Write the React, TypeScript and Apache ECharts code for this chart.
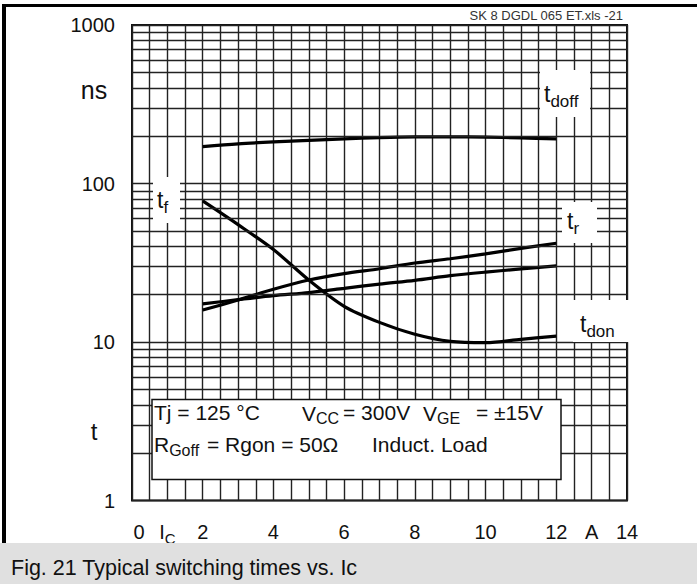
import React, { useEffect, useRef } from "react";
import * as echarts from "echarts";

const currentA = [2, 3, 4, 5, 6, 7, 8, 9, 10, 11, 12];
const tdoff = [171, 178, 183, 187, 191, 195, 197, 197, 196, 194, 191];
const tf = [77.6, 55, 38.3, 24.6, 16.8, 13.3, 11.2, 10.1, 9.9, 10.4, 10.9];
const tr = [15.9, 18.4, 21.5, 24.6, 27, 29, 31.5, 33.5, 36, 39, 42];
const tdon = [17.4, 18.5, 19.6, 20.5, 21.8, 23.2, 24.5, 26.2, 27.6, 28.9, 30.2];
const xTickLabels = ["0", "IC", "2", "", "4", "", "6", "", "8", "", "10", "", "12", "A", "14"];
const yMinorLines = [2, 3, 4, 5, 6, 7, 8, 9, 20, 30, 40, 50, 60, 70, 80, 90, 200, 300, 400, 500, 600, 700, 800, 900];

const FONT = "'Liberation Sans', Arial, Helvetica, sans-serif";
const GRID_COLOR = "#222";

function pairs(ys: number[]) {
  return currentA.map((x, i) => [x, ys[i]]);
}

function sublabel(x: number, y: number, main: string, sub: string, size = 23, subSize = 17, drop = 10) {
  return {
    type: "text",
    x,
    y,
    z: 101,
    style: {
      text: `{m|${main}}{s|${sub}}`,
      verticalAlign: "middle",
      align: "left",
      rich: {
        m: { fontSize: size, fontFamily: FONT, fill: "#111", lineHeight: size + 2, verticalAlign: "top" },
        s: { fontSize: subSize, fontFamily: FONT, fill: "#111", verticalAlign: "top", lineHeight: subSize, padding: [drop, 0, 0, 0] },
      },
    },
  };
}

function plain(x: number, y: number, text: string, size = 21, align = "left", fill = "#111") {
  return {
    type: "text",
    x,
    y,
    z: 101,
    style: { text, fontSize: size, fontFamily: FONT, fill, align, verticalAlign: "middle" },
  };
}

function whiteBox(x: number, y: number, w: number, h: number) {
  return { type: "rect", z: 100, shape: { x, y, width: w, height: h }, style: { fill: "#fff" } };
}

export default function App() {
  const ref = useRef<HTMLDivElement>(null);
  useEffect(() => {
    if (!ref.current) return;
    const chart = echarts.init(ref.current, undefined, { renderer: "svg" });
    const curveStyle = { color: "#000", width: 3.2 };
    const option: any = {
      animation: false,
      backgroundColor: "#fff",
      grid: {
        left: 132,
        top: 25,
        width: 495,
        height: 475.5,
        show: true,
        borderColor: "#111",
        borderWidth: 2,
        backgroundColor: "transparent",
      },
      xAxis: {
        type: "value",
        min: 0,
        max: 14,
        interval: 1,
        axisLine: { show: false },
        axisTick: { show: false },
        splitLine: { show: true, lineStyle: { color: GRID_COLOR, width: 1.4 } },
        minorTick: { show: false, splitNumber: 2 },
        minorSplitLine: { show: true, lineStyle: { color: GRID_COLOR, width: 1.4 } },
        axisLabel: {
          margin: 21,
          fontSize: 20,
          fontFamily: FONT,
          color: "#111",
          formatter: (v: number) => {
            const s = xTickLabels[Math.round(v)] ?? "";
            if (s === "IC") return "{i|I}{c|C}";
            if (s === "A") return "{a|A}";
            if (s === "0") return "{z|0}";
            return s;
          },
          rich: {
            i: { fontSize: 20, fontFamily: FONT, color: "#111", verticalAlign: "top", lineHeight: 20, padding: [0, 0, 0, 0] },
            c: { fontSize: 15, fontFamily: FONT, color: "#111", verticalAlign: "top", lineHeight: 15, padding: [9, 0, 0, 0] },
            a: { fontSize: 20, fontFamily: FONT, color: "#111", padding: [0, 0, 8, 0] },
            z: { fontSize: 20, fontFamily: FONT, color: "#111", padding: [0, 0, 0, 14] },
          },
        },
      },
      yAxis: {
        type: "log",
        logBase: 10,
        min: 1,
        max: 1000,
        axisLine: { show: false },
        axisTick: { show: false },
        splitLine: { show: true, lineStyle: { color: GRID_COLOR, width: 1.4 } },
        axisLabel: {
          margin: 17,
          fontSize: 20,
          fontFamily: FONT,
          color: "#111",
          formatter: (v: number) => String(Math.round(v)),
        },
      },
      series: [
        {
          name: "grid-minor",
          type: "line",
          data: [],
          z: 1,
          silent: true,
          markLine: {
            silent: true,
            symbol: "none",
            label: { show: false },
            lineStyle: { type: "solid", color: GRID_COLOR, width: 1.4 },
            emphasis: { disabled: true },
            data: yMinorLines.map((v) => ({ yAxis: v })),
          },
        },
        { name: "tdoff", type: "line", data: pairs(tdoff), smooth: 0.3, symbol: "none", lineStyle: curveStyle, z: 3 },
        { name: "tf", type: "line", data: pairs(tf), smooth: 0.3, symbol: "none", lineStyle: curveStyle, z: 3 },
        { name: "tr", type: "line", data: pairs(tr), smooth: 0.3, symbol: "none", lineStyle: curveStyle, z: 3 },
        { name: "tdon", type: "line", data: pairs(tdon), smooth: 0.3, symbol: "none", lineStyle: curveStyle, z: 3 },
      ],
      graphic: [
        { type: "rect", z: 100, shape: { x: 2, y: 4, width: 4, height: 539 }, style: { fill: "#000" } },
        { type: "rect", z: 100, shape: { x: 2, y: 4, width: 695, height: 3 }, style: { fill: "#000" } },
        { type: "rect", z: 100, shape: { x: 0, y: 543, width: 697, height: 41 }, style: { fill: "#e0e0e0" } },
        plain(11, 568, "Fig. 21 Typical switching times vs. Ic", 21.5),
        plain(623, 15, "SK 8 DGDL 065 ET.xls -21", 13, "right", "#333"),
        plain(94, 90, "ns", 25, "center"),
        plain(94, 431, "t", 24, "center"),
        whiteBox(540, 70, 50, 47),
        whiteBox(153, 177, 27, 46),
        whiteBox(562, 202, 35, 41),
        whiteBox(573, 300, 57, 42),
        sublabel(544, 95, "t", "doff"),
        sublabel(157, 201, "t", "f"),
        sublabel(567, 222, "t", "r"),
        sublabel(580, 325, "t", "don"),
        {
          type: "rect",
          z: 100,
          shape: { x: 152, y: 399.5, width: 409, height: 80 },
          style: { fill: "#fff", stroke: "#111", lineWidth: 1.5 },
        },
        plain(154, 412.5, "Tj = 125 °C", 21),
        sublabel(302, 414, "V", "CC", 21, 16, 8),
        plain(343, 412.5, "= 300V", 21),
        sublabel(423, 414, "V", "GE", 21, 16, 8),
        plain(476, 412.5, "= ±15V", 21),
        sublabel(154, 445.5, "R", "Goff", 21, 16, 8),
        plain(207, 444, "= Rgon = 50Ω", 21),
        plain(372, 444, "Induct. Load", 21),
      ],
    };
    chart.setOption(option);
    return () => chart.dispose();
  }, []);
  return (
    <div
      ref={ref}
      style={{ position: "fixed", left: 0, top: 0, width: 697, height: 584, background: "#fff" }}
    />
  );
}
